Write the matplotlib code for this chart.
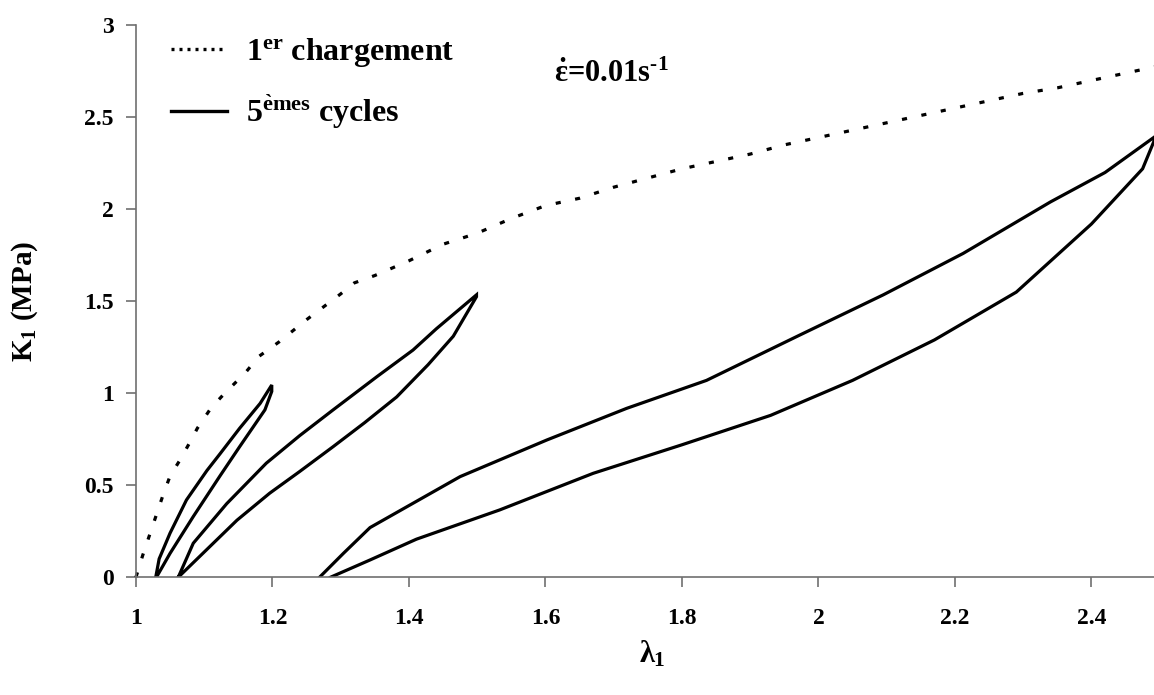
import matplotlib
matplotlib.use("Agg")
import matplotlib.pyplot as plt
from matplotlib.lines import Line2D

# 1er chargement (first loading)
first_x = [1.0, 1.01, 1.02, 1.03, 1.04, 1.05, 1.065, 1.08, 1.09, 1.11, 1.13, 1.16, 1.18,
           1.21, 1.25, 1.30, 1.32, 1.35, 1.40, 1.45, 1.50, 1.55, 1.60, 1.65, 1.70, 1.75,
           1.80, 1.85, 1.90, 1.95, 2.00, 2.05, 2.10, 2.15, 2.20, 2.25, 2.30, 2.35, 2.40,
           2.45, 2.50]
first_y = [0.0, 0.12, 0.23, 0.34, 0.45, 0.55, 0.64, 0.74, 0.81, 0.92, 1.00, 1.11, 1.20,
           1.28, 1.40, 1.54, 1.60, 1.64, 1.72, 1.81, 1.87, 1.95, 2.02, 2.06, 2.12, 2.17,
           2.22, 2.26, 2.30, 2.35, 2.39, 2.43, 2.47, 2.51, 2.55, 2.59, 2.63, 2.66, 2.70,
           2.74, 2.78]

# 5emes cycles: three loops, loading branch then unloading branch
cyc1_x = [1.029, 1.034, 1.050, 1.074, 1.104, 1.123, 1.152, 1.182, 1.199,
          1.199, 1.189, 1.152, 1.123, 1.084, 1.050, 1.030]
cyc1_y = [0.0, 0.10, 0.24, 0.42, 0.58, 0.67, 0.81, 0.945, 1.045,
          1.01, 0.91, 0.71, 0.55, 0.33, 0.13, 0.0]

cyc2_x = [1.062, 1.084, 1.133, 1.191, 1.240, 1.289, 1.353, 1.406, 1.440, 1.499,
          1.499, 1.465, 1.428, 1.382, 1.335, 1.289, 1.240, 1.196, 1.148, 1.062]
cyc2_y = [0.0, 0.185, 0.40, 0.62, 0.77, 0.91, 1.09, 1.235, 1.35, 1.535,
          1.525, 1.31, 1.155, 0.98, 0.84, 0.71, 0.575, 0.457, 0.31, 0.0]

cyc3_x = [1.269, 1.304, 1.343, 1.475, 1.602, 1.719, 1.836, 1.973, 2.095, 2.212, 2.34,
          2.42, 2.495,
          2.495, 2.475, 2.40, 2.29, 2.17, 2.05, 1.93, 1.80, 1.670, 1.533, 1.411, 1.343,
          1.285]
cyc3_y = [0.0, 0.13, 0.27, 0.547, 0.746, 0.918, 1.07, 1.317, 1.535, 1.76, 2.04,
          2.20, 2.40,
          2.40, 2.22, 1.92, 1.55, 1.29, 1.07, 0.88, 0.72, 0.565, 0.366, 0.207, 0.094,
          0.0]

x_ticks = [1, 1.2, 1.4, 1.6, 1.8, 2, 2.2, 2.4]
x_tick_labels = ["1", "1.2", "1.4", "1.6", "1.8", "2", "2.2", "2.4"]
y_ticks = [0, 0.5, 1, 1.5, 2, 2.5, 3]
y_tick_labels = ["0", "0.5", "1", "1.5", "2", "2.5", "3"]

plt.rcParams['font.family'] = ['Liberation Serif', 'DejaVu Serif']
plt.rcParams['font.weight'] = 'bold'
plt.rcParams['mathtext.fontset'] = 'custom'
plt.rcParams['mathtext.rm'] = 'Liberation Serif:bold'
plt.rcParams['mathtext.it'] = 'Liberation Serif:bold'
plt.rcParams['mathtext.bf'] = 'Liberation Serif:bold'

fig = plt.figure(figsize=(11.54, 6.95), dpi=100)
ax = fig.add_axes([0.1178, 0.1694, 0.8871, 0.7942])

lw = 2.3
ax.plot(first_x, first_y, color='black', lw=lw, dashes=(1.6, 4.6), clip_on=False)
for cx, cy in [(cyc1_x, cyc1_y), (cyc2_x, cyc2_y), (cyc3_x, cyc3_y)]:
    ax.plot(cx, cy, color='black', lw=lw, solid_joinstyle='miter')

ax.set_xlim(1, 2.5)
ax.set_ylim(0, 3)
ax.set_xticks(x_ticks)
ax.set_xticklabels(x_tick_labels)
ax.set_yticks(y_ticks)
ax.set_yticklabels(y_tick_labels)

for s in ['top', 'right']:
    ax.spines[s].set_visible(False)
for s in ['left', 'bottom']:
    ax.spines[s].set_color('#707070')
    ax.spines[s].set_linewidth(1.2)

ax.tick_params(axis='x', direction='out', length=7, width=1.2, color='#707070',
               pad=15, labelsize=17)
ax.tick_params(axis='y', direction='out', length=7, width=1.2, color='#707070',
               pad=9, labelsize=17)
for lab in ax.get_xticklabels() + ax.get_yticklabels():
    lab.set_fontweight('bold')

ax.set_xlabel(r'$\lambda_1$', fontsize=22)
ax.xaxis.set_label_coords(0.504, -0.112)
ax.set_ylabel(r'K$_1$ (MPa)', fontsize=21, fontweight='bold')
ax.yaxis.set_label_coords(-0.094, 0.5)

handles = [Line2D([], [], color='black', lw=2.4, dashes=(0.9, 1.5)),
           Line2D([], [], color='black', lw=2.4)]
labels = [r'1$^{\rm er}$ chargement', r'5$^{\rm \`emes}$ cycles']
ax.legend(handles, labels, loc='upper left', bbox_to_anchor=(0.006, 1.033),
          frameon=False, fontsize=23, handlelength=1.75, handletextpad=0.6,
          labelspacing=0.75)

ax.text(1.612, 2.69, r'$\dot{\varepsilon}$=0.01s$^{\text{-1}}$', fontsize=22,
        fontweight='bold', va='baseline', ha='left')

fig.savefig('out.png', dpi=100)
